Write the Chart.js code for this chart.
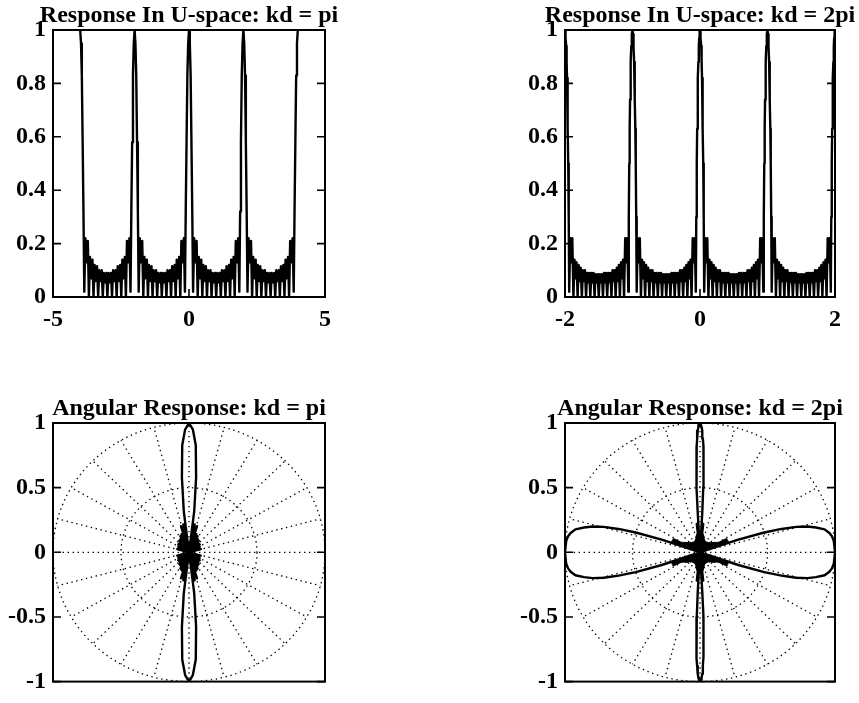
<!DOCTYPE html>
<html>
<head>
<meta charset="utf-8">
<script src="https://cdn.jsdelivr.net/npm/chart.js@4.4.1/dist/chart.umd.min.js"></script>
<style>
  html, body { margin: 0; padding: 0; background: #fff; width: 859px; height: 703px; overflow: hidden; }
  canvas { position: absolute; }
</style>
</head>
<body>
<canvas id="uPi" width="345" height="345" style="left:0;top:0"></canvas>
<canvas id="uTwoPi" width="359" height="345" style="left:500px;top:0"></canvas>
<canvas id="angPi" width="345" height="323" style="left:0;top:380px"></canvas>
<canvas id="angTwoPi" width="359" height="323" style="left:500px;top:380px"></canvas>
<script>
// Array factor magnitude sampled in u-space, kd = pi (grating lobes every 2 in u)
const piU = [
  -4, -3.97, -3.94, -3.91, -3.88, -3.85, -3.81, -3.77, -3.72, -3.68, -3.64, -3.6, -3.55, -3.51, -3.47, -3.43, -3.38, -3.34, -3.3, -3.26, -3.21, -3.17, -3.13, -3.09, -3.04, -3, -2.96, -2.91, -2.87, -2.83, -2.79, -2.74, -2.7, -2.66, -2.62, -2.57, -2.53, -2.49, -2.45, -2.4, -2.36, -2.32, -2.28, -2.23, -2.19, -2.15, -2.12, -2.09, -2.06, -2.03,
  -2, -1.97, -1.94, -1.91, -1.88, -1.85, -1.81, -1.77, -1.72, -1.68, -1.64, -1.6, -1.55, -1.51, -1.47, -1.43, -1.38, -1.34, -1.3, -1.26, -1.21, -1.17, -1.13, -1.09, -1.04, -1, -0.96, -0.91, -0.87, -0.83, -0.79, -0.74, -0.7, -0.66, -0.62, -0.57, -0.53, -0.49, -0.45, -0.4, -0.36, -0.32, -0.28, -0.23, -0.19, -0.15, -0.12, -0.09, -0.06, -0.03,
  0, 0.03, 0.06, 0.09, 0.12, 0.15, 0.19, 0.23, 0.28, 0.32, 0.36, 0.4, 0.45, 0.49, 0.53, 0.57, 0.62, 0.66, 0.7, 0.74, 0.79, 0.83, 0.87, 0.91, 0.96, 1, 1.04, 1.09, 1.13, 1.17, 1.21, 1.26, 1.3, 1.34, 1.38, 1.43, 1.47, 1.51, 1.55, 1.6, 1.64, 1.68, 1.72, 1.77, 1.81, 1.85, 1.88, 1.91, 1.94, 1.97,
  2, 2.03, 2.06, 2.09, 2.12, 2.15, 2.19, 2.23, 2.28, 2.32, 2.36, 2.4, 2.45, 2.49, 2.53, 2.57, 2.62, 2.66, 2.7, 2.74, 2.79, 2.83, 2.87, 2.91, 2.96, 3, 3.04, 3.09, 3.13, 3.17, 3.21, 3.26, 3.3, 3.34, 3.38, 3.43, 3.47, 3.51, 3.55, 3.6, 3.64, 3.68, 3.72, 3.77, 3.81, 3.85, 3.88, 3.91, 3.94, 3.97,
  4
];
const piAF = [
  1, .95, .83, .58, .32, .02, .22, .13, .21, 0, .15, .07, .14, 0, .12, .06, .115, 0, .10, .06, .10, 0, .09, .055, .09, 0, .09, .055, .09, 0, .10, .06, .10, 0, .115, .06, .12, 0, .14, .07, .15, 0, .21, .13, .22, .02, .32, .58, .83, .95,
  1, .95, .83, .58, .32, .02, .22, .13, .21, 0, .15, .07, .14, 0, .12, .06, .115, 0, .10, .06, .10, 0, .09, .055, .09, 0, .09, .055, .09, 0, .10, .06, .10, 0, .115, .06, .12, 0, .14, .07, .15, 0, .21, .13, .22, .02, .32, .58, .83, .95,
  1, .95, .83, .58, .32, .02, .22, .13, .21, 0, .15, .07, .14, 0, .12, .06, .115, 0, .10, .06, .10, 0, .09, .055, .09, 0, .09, .055, .09, 0, .10, .06, .10, 0, .115, .06, .12, 0, .14, .07, .15, 0, .21, .13, .22, .02, .32, .58, .83, .95,
  1, .95, .83, .58, .32, .02, .22, .13, .21, 0, .15, .07, .14, 0, .12, .06, .115, 0, .10, .06, .10, 0, .09, .055, .09, 0, .09, .055, .09, 0, .10, .06, .10, 0, .115, .06, .12, 0, .14, .07, .15, 0, .21, .13, .22, .02, .32, .58, .83, .95,
  1
];

// Array factor magnitude sampled in u-space, kd = 2pi (grating lobes every 1 in u)
const twoPiU = [
  -2, -1.996, -1.992, -1.988, -1.982, -1.976, -1.97, -1.964, -1.958, -1.952, -1.945, -1.938,
  -1.922, -1.907, -1.892, -1.875, -1.86, -1.845, -1.83, -1.813, -1.798, -1.783, -1.768, -1.75, -1.735, -1.72, -1.704, -1.688, -1.672, -1.656, -1.641, -1.625, -1.609, -1.594, -1.578, -1.562, -1.547, -1.531, -1.516, -1.5,
  -1.484, -1.469, -1.453, -1.438, -1.422, -1.406, -1.391, -1.375, -1.359, -1.344, -1.328, -1.312, -1.296, -1.28, -1.265, -1.25, -1.232, -1.217, -1.202, -1.187, -1.17, -1.155, -1.14, -1.125, -1.108, -1.093, -1.078, -1.062,
  -1.055, -1.048, -1.042, -1.036, -1.03, -1.024, -1.018, -1.012, -1.008, -1.004,
  -1, -0.996, -0.992, -0.988, -0.982, -0.976, -0.97, -0.964, -0.958, -0.952, -0.945, -0.938,
  -0.922, -0.907, -0.892, -0.875, -0.86, -0.845, -0.83, -0.813, -0.798, -0.783, -0.768, -0.75, -0.735, -0.72, -0.704, -0.688, -0.672, -0.656, -0.641, -0.625, -0.609, -0.594, -0.578, -0.562, -0.547, -0.531, -0.516, -0.5,
  -0.484, -0.469, -0.453, -0.438, -0.422, -0.406, -0.391, -0.375, -0.359, -0.344, -0.328, -0.312, -0.296, -0.28, -0.265, -0.25, -0.232, -0.217, -0.202, -0.187, -0.17, -0.155, -0.14, -0.125, -0.108, -0.093, -0.078, -0.062,
  -0.055, -0.048, -0.042, -0.036, -0.03, -0.024, -0.018, -0.012, -0.008, -0.004,
  0, 0.004, 0.008, 0.012, 0.018, 0.024, 0.03, 0.036, 0.042, 0.048, 0.055, 0.062,
  0.078, 0.093, 0.108, 0.125, 0.14, 0.155, 0.17, 0.187, 0.202, 0.217, 0.232, 0.25, 0.265, 0.28, 0.296, 0.312, 0.328, 0.344, 0.359, 0.375, 0.391, 0.406, 0.422, 0.438, 0.453, 0.469, 0.484, 0.5,
  0.516, 0.531, 0.547, 0.562, 0.578, 0.594, 0.609, 0.625, 0.641, 0.656, 0.672, 0.688, 0.704, 0.72, 0.735, 0.75, 0.768, 0.783, 0.798, 0.813, 0.83, 0.845, 0.86, 0.875, 0.892, 0.907, 0.922, 0.938,
  0.945, 0.952, 0.958, 0.964, 0.97, 0.976, 0.982, 0.988, 0.992, 0.996,
  1, 1.004, 1.008, 1.012, 1.018, 1.024, 1.03, 1.036, 1.042, 1.048, 1.055, 1.062,
  1.078, 1.093, 1.108, 1.125, 1.14, 1.155, 1.17, 1.187, 1.202, 1.217, 1.232, 1.25, 1.265, 1.28, 1.296, 1.312, 1.328, 1.344, 1.359, 1.375, 1.391, 1.406, 1.422, 1.438, 1.453, 1.469, 1.484, 1.5,
  1.516, 1.531, 1.547, 1.562, 1.578, 1.594, 1.609, 1.625, 1.641, 1.656, 1.672, 1.688, 1.704, 1.72, 1.735, 1.75, 1.768, 1.783, 1.798, 1.813, 1.83, 1.845, 1.86, 1.875, 1.892, 1.907, 1.922, 1.938,
  1.945, 1.952, 1.958, 1.964, 1.97, 1.976, 1.982, 1.988, 1.992, 1.996,
  2
];
const twoPiAF = [
  1, .995, .985, .97, .94, .88, .82, .74, .63, .5, .3, .02,
  .22, .13, .22, 0, .14, .07, .13, 0, .12, .06, .11, 0, .10, .06, .10, 0, .09, .055, .09, 0, .09, .055, .09, 0, .085, .055, .085, 0,
  .085, .055, .085, 0, .09, .055, .09, 0, .09, .055, .09, 0, .10, .06, .10, 0, .11, .06, .12, 0, .13, .07, .14, 0, .22, .13, .22, .02,
  .3, .5, .63, .74, .82, .88, .94, .97, .985, .995,
  1, .995, .985, .97, .94, .88, .82, .74, .63, .5, .3, .02,
  .22, .13, .22, 0, .14, .07, .13, 0, .12, .06, .11, 0, .10, .06, .10, 0, .09, .055, .09, 0, .09, .055, .09, 0, .085, .055, .085, 0,
  .085, .055, .085, 0, .09, .055, .09, 0, .09, .055, .09, 0, .10, .06, .10, 0, .11, .06, .12, 0, .13, .07, .14, 0, .22, .13, .22, .02,
  .3, .5, .63, .74, .82, .88, .94, .97, .985, .995,
  1, .995, .985, .97, .94, .88, .82, .74, .63, .5, .3, .02,
  .22, .13, .22, 0, .14, .07, .13, 0, .12, .06, .11, 0, .10, .06, .10, 0, .09, .055, .09, 0, .09, .055, .09, 0, .085, .055, .085, 0,
  .085, .055, .085, 0, .09, .055, .09, 0, .09, .055, .09, 0, .10, .06, .10, 0, .11, .06, .12, 0, .13, .07, .14, 0, .22, .13, .22, .02,
  .3, .5, .63, .74, .82, .88, .94, .97, .985, .995,
  1, .995, .985, .97, .94, .88, .82, .74, .63, .5, .3, .02,
  .22, .13, .22, 0, .14, .07, .13, 0, .12, .06, .11, 0, .10, .06, .10, 0, .09, .055, .09, 0, .09, .055, .09, 0, .085, .055, .085, 0,
  .085, .055, .085, 0, .09, .055, .09, 0, .09, .055, .09, 0, .10, .06, .10, 0, .11, .06, .12, 0, .13, .07, .14, 0, .22, .13, .22, .02,
  .3, .5, .63, .74, .82, .88, .94, .97, .985, .995,
  1
];

// Tick labels
const piTicksX = [-5, 0, 5];
const twoPiTicksX = [-2, 0, 2];
const responseTicksY = [0, 0.2, 0.4, 0.6, 0.8, 1];
const polarTicksY = [-1, -0.5, 0, 0.5, 1];

// Polar grid: dotted rings and spokes
const polarRings = [0.5, 1];
const polarSpokeStepDeg = 15;

const FONT = { family: "'Liberation Serif', 'Times New Roman', serif", size: 24, weight: 'bold' };

// Angular response r(theta) = AF(u = cos theta), using the visible region |u| <= 1
function angularPoints(us, af) {
  const idx = [];
  us.forEach((u, i) => { if (Math.abs(u) <= 1 + 1e-9) idx.push(i); });
  const pts = [];
  for (let k = idx.length - 1; k >= 0; k--) {
    const i = idx[k], u = Math.max(-1, Math.min(1, us[i])), s = Math.sqrt(1 - u * u);
    pts.push({ x: af[i] * u, y: af[i] * s });
  }
  for (let k = 0; k < idx.length; k++) {
    const i = idx[k], u = Math.max(-1, Math.min(1, us[i])), s = Math.sqrt(1 - u * u);
    pts.push({ x: af[i] * u, y: -af[i] * s });
  }
  return pts;
}

const framePlugin = {
  id: 'frame',
  beforeDatasetsDraw(chart, args, o) {
    if (!o.polar) return;
    const { ctx } = chart, xs = chart.scales.x, ys = chart.scales.y;
    const px = v => xs.getPixelForValue(v), py = v => ys.getPixelForValue(v);
    ctx.save();
    ctx.strokeStyle = '#000';
    ctx.lineWidth = 1.3;
    ctx.setLineDash([1.4, 3.6]);
    for (const r of polarRings) {
      ctx.beginPath();
      ctx.ellipse(px(0), py(0), px(r) - px(0), py(0) - py(r), 0, 0, Math.PI * 2);
      ctx.stroke();
    }
    for (let a = 0; a < 180; a += polarSpokeStepDeg) {
      const t = a * Math.PI / 180;
      ctx.beginPath();
      ctx.moveTo(px(0), py(0));
      ctx.lineTo(px(Math.cos(t)), py(Math.sin(t)));
      ctx.moveTo(px(0), py(0));
      ctx.lineTo(px(-Math.cos(t)), py(-Math.sin(t)));
      ctx.stroke();
    }
    ctx.restore();
  },
  afterDatasetsDraw(chart, args, o) {
    const { ctx, chartArea: a } = chart;
    ctx.save();
    ctx.strokeStyle = '#000';
    ctx.lineWidth = 1.6;
    const ys = chart.scales.y, xs = chart.scales.x;
    ys.ticks.forEach(t => {
      const y = ys.getPixelForValue(t.value);
      ctx.beginPath();
      ctx.moveTo(a.left, y); ctx.lineTo(a.left + 8, y);
      ctx.moveTo(a.right, y); ctx.lineTo(a.right - 8, y);
      ctx.stroke();
    });
    if (!o.polar) {
      xs.ticks.forEach(t => {
        const x = xs.getPixelForValue(t.value);
        ctx.beginPath();
        ctx.moveTo(x, a.bottom); ctx.lineTo(x, a.bottom - 8);
        ctx.moveTo(x, a.top); ctx.lineTo(x, a.top + 8);
        ctx.stroke();
      });
    }
    ctx.lineWidth = 2;
    ctx.strokeRect(a.left, a.top, a.right - a.left, a.bottom - a.top);
    ctx.restore();
  },
  afterDraw(chart, args, o) {
    const { ctx, chartArea: a } = chart;
    ctx.save();
    ctx.fillStyle = '#000';
    ctx.font = `bold ${FONT.size}px ${FONT.family}`;
    ctx.textAlign = 'center';
    ctx.textBaseline = 'alphabetic';
    ctx.fillText(o.title, (a.left + a.right) / 2, o.titleY);
    ctx.restore();
  }
};

function makeChart(id, cfg) {
  const tickList = list => scale => { scale.ticks = list.map(v => ({ value: v })); };
  const plain = v => String(v);
  new Chart(document.getElementById(id), {
    type: 'scatter',
    data: {
      datasets: [{
        data: cfg.points,
        showLine: true,
        borderColor: '#000',
        borderWidth: 2.4,
        borderJoinStyle: 'round',
        pointRadius: 0,
        tension: 0
      }]
    },
    options: {
      responsive: false,
      animation: false,
      devicePixelRatio: 1,
      events: [],
      layout: { padding: cfg.padding },
      plugins: {
        legend: { display: false },
        tooltip: { enabled: false },
        frame: { title: cfg.title, titleY: cfg.titleY, polar: cfg.polar }
      },
      scales: {
        x: {
          type: 'linear',
          display: !cfg.polar,
          min: cfg.xmin, max: cfg.xmax,
          afterBuildTicks: tickList(cfg.xTicks),
          afterFit: s => { s.height = cfg.xAxisHeight; },
          grid: { display: false, drawTicks: false },
          border: { display: false },
          ticks: { color: '#000', font: FONT, padding: 8, maxRotation: 0, autoSkip: false, callback: plain }
        },
        y: {
          type: 'linear',
          min: cfg.ymin, max: cfg.ymax,
          afterBuildTicks: tickList(cfg.yTicks),
          afterFit: s => { s.width = cfg.yAxisWidth; },
          grid: { display: false, drawTicks: false },
          border: { display: false },
          ticks: { color: '#000', font: FONT, padding: 7, autoSkip: false, callback: plain }
        }
      }
    },
    plugins: [framePlugin]
  });
}

const zip = (us, vs) => us.map((u, i) => ({ x: u, y: vs[i] }));

makeChart('uPi', {
  points: zip(piU, piAF), title: 'Response In U-space: kd = pi', titleY: 22,
  xmin: -5, xmax: 5, ymin: 0, ymax: 1, xTicks: piTicksX, yTicks: responseTicksY,
  padding: { top: 30, right: 20, left: 0, bottom: 0 }, yAxisWidth: 53, xAxisHeight: 48
});
makeChart('uTwoPi', {
  points: zip(twoPiU, twoPiAF), title: 'Response In U-space: kd = 2pi', titleY: 22,
  xmin: -2, xmax: 2, ymin: 0, ymax: 1, xTicks: twoPiTicksX, yTicks: responseTicksY,
  padding: { top: 30, right: 24, left: 0, bottom: 0 }, yAxisWidth: 65, xAxisHeight: 48
});
makeChart('angPi', {
  points: angularPoints(piU, piAF), title: 'Angular Response: kd = pi', titleY: 35, polar: true,
  xmin: -1, xmax: 1, ymin: -1, ymax: 1, xTicks: [], yTicks: polarTicksY,
  padding: { top: 43, right: 20, left: 0, bottom: 14 }, yAxisWidth: 53, xAxisHeight: 0
});
makeChart('angTwoPi', {
  points: angularPoints(twoPiU, twoPiAF), title: 'Angular Response: kd = 2pi', titleY: 35, polar: true,
  xmin: -1, xmax: 1, ymin: -1, ymax: 1, xTicks: [], yTicks: polarTicksY,
  padding: { top: 43, right: 24, left: 0, bottom: 14 }, yAxisWidth: 65, xAxisHeight: 0
});
</script>
</body>
</html>
